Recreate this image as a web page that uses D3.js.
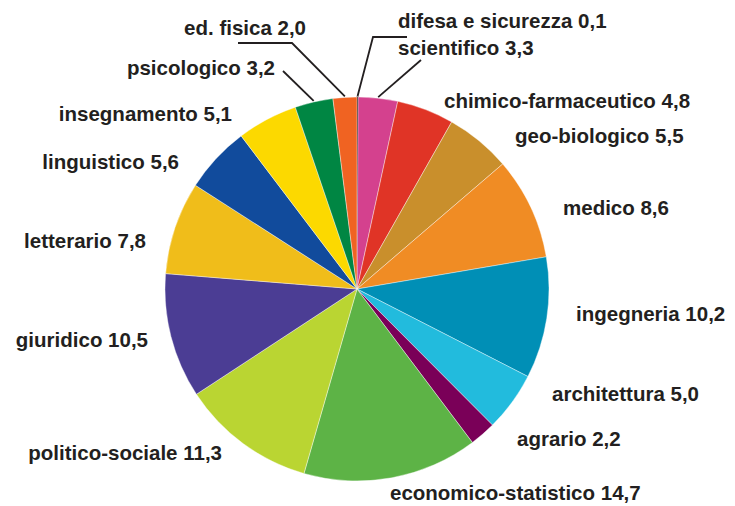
<!DOCTYPE html>
<html>
<head>
<meta charset="utf-8">
<script src="https://cdn.jsdelivr.net/npm/d3@7"></script>
<style>
  body { margin: 0; background: #fff; }
  svg { display: block; }
  .lbl { font-family: "Liberation Sans", Arial, sans-serif; font-weight: bold; font-size: 20.5px; fill: #231f20; }
  .leader { fill: none; stroke: #231f20; stroke-width: 1.8; }
</style>
</head>
<body>
<div id="chart"></div>
<script>
const categories = ['difesa e sicurezza', 'scientifico', 'chimico-farmaceutico', 'geo-biologico', 'medico',
    'ingegneria', 'architettura', 'agrario', 'economico-statistico', 'politico-sociale', 'giuridico',
    'letterario', 'linguistico', 'insegnamento', 'psicologico', 'ed. fisica'];
const values = [0.1, 3.3, 4.8, 5.5, 8.6, 10.2, 5.0, 2.2, 14.7, 11.3, 10.5, 7.8, 5.6, 5.1, 3.2, 2.0];
const colors = ['#231f20', '#d4418e', '#e03426', '#c98f2c', '#f08c24', '#008fb6', '#22bbdd', '#7a0058',
    '#5db346', '#bad532', '#4b3d94', '#f0bd1a', '#114b9c', '#fcd900', '#008643', '#f06322'];

// label placement (x, baseline y, anchor) — hand layout like the original
const labelPos = [
    [398, 28, 'start'], [398, 55, 'start'], [444, 108, 'start'], [515, 143, 'start'],
    [563, 215, 'start'], [576, 321, 'start'], [552, 401, 'start'], [517, 446, 'start'],
    [390, 500, 'start'], [222, 460, 'end'], [148, 347, 'end'], [146, 248, 'end'],
    [179, 169, 'end'], [232, 121, 'end'], [275, 75, 'end'], [306, 35, 'end']
];
// leader line bend points for the crowded top labels (index -> points after the arc point)
const leaders = {
    0: [[373, 37], [407, 37]],
    1: [[421, 60]],
    14: [[283, 71]],
    15: [[292, 43], [238, 43]]
};

const width = 735, height = 506;
const cx = 357, cy = 289, radius = 192;

const svg = d3.select('#chart')
    .append('svg')
    .attr('width', width)
    .attr('height', height);

const data = categories.map((c, i) => ({ name: c, value: values[i], color: colors[i], i: i }));

const pie = d3.pie().sort(null).value(d => d.value);
const arc = d3.arc().innerRadius(0).outerRadius(radius);
const arcs = pie(data);

const g = svg.append('g').attr('transform', `translate(${cx},${cy})`);

g.selectAll('path')
    .data(arcs)
    .join('path')
    .attr('d', arc)
    .attr('fill', d => d.data.color)
    // tiny slices get an outline in their own colour so they stay visible
    .attr('stroke', d => d.data.value < 1 ? d.data.color : '#fff')
    .attr('stroke-width', d => d.data.value < 1 ? 1.2 : 0.4);

// leader lines
const line = d3.line();
Object.keys(leaders).forEach(k => {
    const a = arcs[+k];
    const mid = (a.startAngle + a.endAngle) / 2;
    const start = [cx + (radius + 1) * Math.sin(mid), cy - (radius + 1) * Math.cos(mid)];
    svg.append('path')
        .attr('class', 'leader')
        .attr('d', line([start].concat(leaders[k])));
});

// labels
const fmt = v => d3.format('.1f')(v).replace('.', ',');
svg.append('g')
    .selectAll('text')
    .data(arcs)
    .join('text')
    .attr('class', 'lbl')
    .attr('x', d => labelPos[d.data.i][0])
    .attr('y', d => labelPos[d.data.i][1])
    .attr('text-anchor', d => labelPos[d.data.i][2])
    .text(d => d.data.name + ' ' + fmt(d.data.value));
</script>
</body>
</html>
